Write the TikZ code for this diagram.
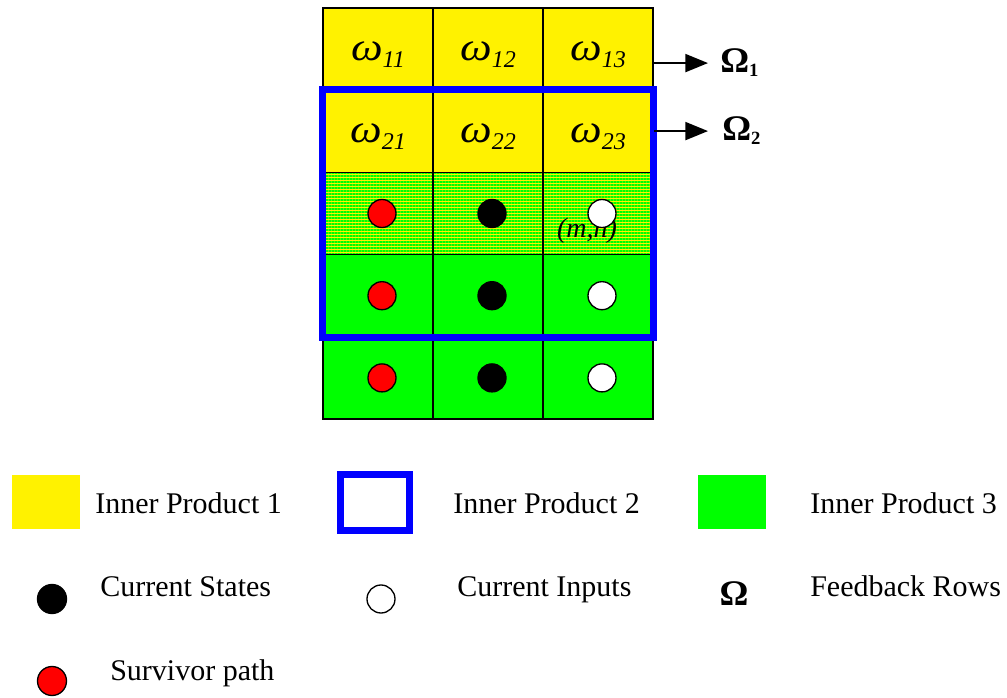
\documentclass[tikz,border=0pt]{standalone}
\usepackage{fontspec}
\setmainfont{Liberation Serif}
\usepackage{tikz}
\usetikzlibrary{arrows.meta,positioning,patterns.meta}

\newcommand{\wlab}[1]{{\fontsize{30pt}{30pt}\selectfont\itshape\scalebox{1.12}[1]{ω}}\raisebox{-5.25pt}{\fontsize{18pt}{18pt}\selectfont\itshape #1}}
\newcommand{\omlab}[1]{\textbf{Ω}\raisebox{-3pt}{\fontsize{14pt}{14pt}\selectfont\bfseries #1}}

\begin{document}
\begin{tikzpicture}[x=0.75pt,y=-0.75pt,
  every node/.style={font=\fontsize{22.5pt}{27pt}\selectfont},
  cellbox/.style={draw,line width=1.2pt,minimum width=82.5pt,minimum height=61.65pt,inner sep=0pt},
  hatched/.style={preaction={fill=yellow},pattern={Lines[angle=0,distance=2.25pt,line width=0.8pt]},pattern color=green},
  dot/.style={circle,draw,line width=1pt,minimum size=21pt,inner sep=0pt},
  ipbox/.style={draw=blue,line width=5.25pt},
  feedarr/.style={-{Triangle[length=17pt,width=13.5pt]},line width=1.5pt},
  legtext/.style={anchor=base west,inner sep=0pt}]
  \useasboundingbox (0,0) rectangle (1007,698);
  % grid of cells
  \foreach \r in {1,...,5}{
    \foreach \c in {1,2,3}{
      \ifnum\r<3
        \node[cellbox,fill=yellow] (c\r-\c) at ({268+110*\c},{82.2*\r-33.1}) {};
      \else\ifnum\r=3
        \node[cellbox,hatched] (c\r-\c) at ({268+110*\c},{82.2*\r-33.1}) {};
      \else
        \node[cellbox,fill=green] (c\r-\c) at ({268+110*\c},{82.2*\r-33.1}) {};
      \fi\fi
    }
  }
  \foreach \r in {1,2}{
    \foreach \c in {1,2,3}{
      \node[anchor=base,inner sep=0pt] (w\r\c) at ([yshift=-8.5pt]c\r-\c.center) {\wlab{\r\c}};
    }
  }
  \node[anchor=base,inner sep=0pt,font=\fontsize{21pt}{21pt}\selectfont\itshape] (mn) at (587,238) {(m,n)};
  \foreach \r in {3,4,5}{
    \node[dot,fill=red] (sv\r) at ([xshift=3pt]c\r-1.center) {};
    \node[dot,fill=black] (st\r) at ([xshift=3pt]c\r-2.center) {};
    \node[dot,fill=white] (in\r) at ([xshift=3pt]c\r-3.center) {};
  }
  \draw[ipbox] (c2-1.north west) rectangle (c4-3.south east);
  % feedback rows
  \node[anchor=base west,inner sep=0pt,font=\fontsize{27pt}{27pt}\selectfont] (om1) at (720,73) {\omlab{1}};
  \node[anchor=base west,inner sep=0pt,font=\fontsize{27pt}{27pt}\selectfont] (om2) at (722,141) {\omlab{2}};
  \draw[feedarr] (om1.west -| c1-3.east) -- ([xshift=-9pt]om1.west);
  \draw[feedarr] (om2.west -| c1-3.east) -- ([xshift=-10.5pt]om2.west);
  % legend
  \node[fill=yellow,minimum width=51pt,minimum height=41pt,inner sep=0pt] (legA) at (45.5,502) {};
  \node[legtext] (legAt) at (95,513) {Inner Product 1};
  \node[ipbox,minimum width=51.75pt,minimum height=41.25pt,inner sep=0pt] (legB) at (374.5,502.5) {};
  \node[legtext] (legBt) at (453,513) {Inner Product 2};
  \node[fill=green,minimum width=51pt,minimum height=40.5pt,inner sep=0pt] (legC) at (732,502) {};
  \node[legtext] (legCt) at (810,513) {Inner Product 3};
  \node[dot,fill=black,minimum size=21.75pt] (legD) at (52,599) {};
  \node[legtext] (legDt) at (100,596) {Current States};
  \node[dot,fill=white] (legE) at (381,599) {};
  \node[legtext] (legEt) at (457,596) {Current Inputs};
  \node[anchor=base,inner sep=0pt,font=\fontsize{27pt}{27pt}\selectfont\bfseries] (legF) at (734,605) {Ω};
  \node[legtext] (legFt) at (810,596) {Feedback Rows};
  \node[dot,fill=red,minimum size=21.75pt] (legG) at (52,681) {};
  \node[legtext] (legGt) at (110,680) {Survivor path};
\end{tikzpicture}
\end{document}
